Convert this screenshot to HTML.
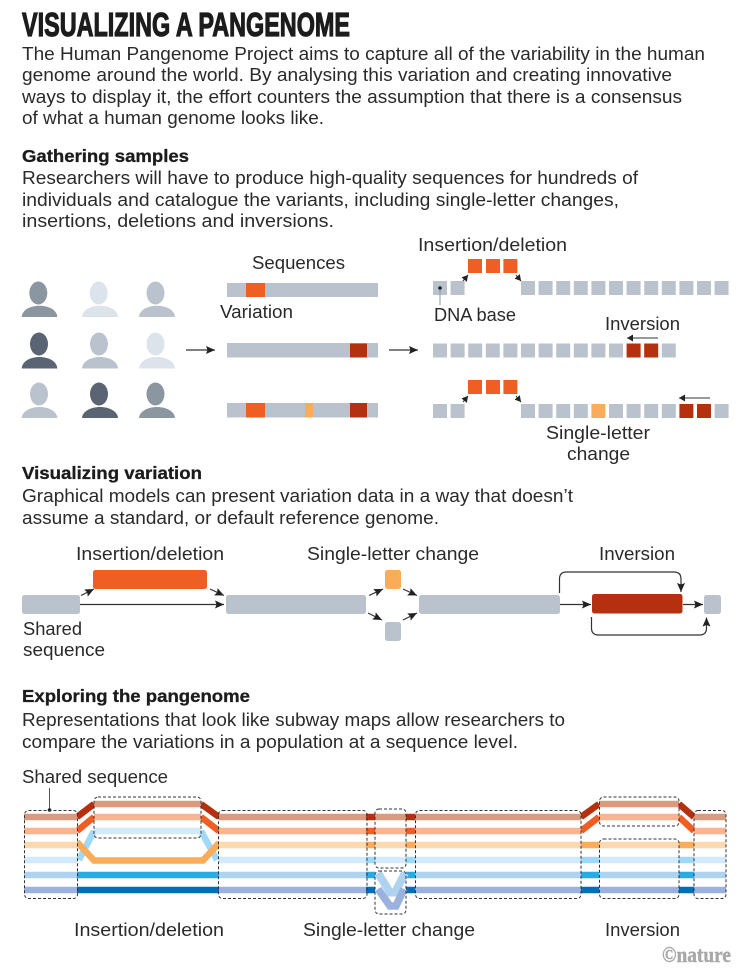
<!DOCTYPE html>
<html><head><meta charset="utf-8"><style>
html,body{margin:0;padding:0;background:#fff}
svg{display:block}
text{font-family:"Liberation Sans",sans-serif;font-size:18px;fill:#2a2a2a}
.h{font-weight:bold;font-size:17.5px;fill:#1c1c1c;stroke:#1c1c1c;stroke-width:.3}
.g{fill:#bac3cd}.o{fill:#ef5f24}.r{fill:#b5300f}.y{fill:#f9ac5a}
.a{stroke:#333;stroke-width:1.2;fill:none;marker-end:url(#ah)}
.b{fill:none;stroke:#333;stroke-width:1;stroke-dasharray:3 2}
.l{fill:none;stroke-width:6.5}
</style></head><body>
<svg width="751" height="971" viewBox="0 0 751 971" xmlns="http://www.w3.org/2000/svg">
<defs>
<marker id="ah" markerUnits="userSpaceOnUse" markerWidth="11" markerHeight="9" refX="9" refY="4.500" orient="auto"><path d="M0 0.500L9 4.500L0 8.500L1.500 4.500Z" fill="#222"/></marker>
<marker id="as" markerUnits="userSpaceOnUse" markerWidth="7" markerHeight="7" refX="6" refY="3.500" orient="auto"><path d="M0 0L6 3.500L0 7Z" fill="#222"/></marker>
</defs>
<rect width="751" height="971" fill="#fff"/>

<text x="22" y="36" textLength="328" lengthAdjust="spacingAndGlyphs" style="font-size:33.5px;font-weight:bold;fill:#1c1c1c;stroke:#1c1c1c;stroke-width:1.2">VISUALIZING A PANGENOME</text>
<text x="22" y="60" textLength="683" lengthAdjust="spacingAndGlyphs">The Human Pangenome Project aims to capture all of the variability in the human</text>
<text x="22" y="81" textLength="650" lengthAdjust="spacingAndGlyphs">genome around the world. By analysing this variation and creating innovative</text>
<text x="22" y="103" textLength="660" lengthAdjust="spacingAndGlyphs">ways to display it, the effort counters the assumption that there is a consensus</text>
<text x="22" y="124" textLength="302" lengthAdjust="spacingAndGlyphs">of what a human genome looks like.</text>

<text class="h" x="22" y="162" textLength="167" lengthAdjust="spacingAndGlyphs">Gathering samples</text>
<text x="22" y="184" textLength="616" lengthAdjust="spacingAndGlyphs">Researchers will have to produce high-quality sequences for hundreds of</text>
<text x="22" y="206" textLength="597" lengthAdjust="spacingAndGlyphs">individuals and catalogue the variants, including single-letter changes,</text>
<text x="22" y="227" textLength="312" lengthAdjust="spacingAndGlyphs">insertions, deletions and inversions.</text>

<!-- people -->
<g fill="#8b96a1"><ellipse cx="38.300" cy="293" rx="9" ry="11.500"/><path d="M21.700 317C22 310 30 305.700 39.500 305.700S57 310 57.300 317Z"/></g>
<g fill="#dde3eb"><ellipse cx="98.700" cy="293" rx="9" ry="11.500"/><path d="M82 317C82.300 310 90.500 305.700 100 305.700S117.700 310 118 317Z"/></g>
<g fill="#bac3cd"><ellipse cx="155.500" cy="293" rx="9" ry="11.500"/><path d="M139 317C139.300 310 147.500 305.700 157 305.700S174.700 310 175 317Z"/></g>
<g fill="#5a6472"><ellipse cx="39" cy="344" rx="9" ry="11.500"/><path d="M21.700 368.500C22 361.500 30 357 39.500 357S57 361.500 57.300 368.500Z"/></g>
<g fill="#bac3cd"><ellipse cx="99" cy="344" rx="9" ry="11.500"/><path d="M82 368.500C82.300 361.500 90.500 357 100 357S117.700 361.500 118 368.500Z"/></g>
<g fill="#dde3eb"><ellipse cx="155.500" cy="344" rx="9" ry="11.500"/><path d="M139 368.500C139.300 361.500 147.500 357 157 357S174.700 361.500 175 368.500Z"/></g>
<g fill="#bac3cd"><ellipse cx="39" cy="394" rx="9" ry="11.500"/><path d="M21.700 418C22 411.500 30 407 39.500 407S57 411.500 57.300 418Z"/></g>
<g fill="#5a6472"><ellipse cx="99" cy="394" rx="9" ry="11.500"/><path d="M82 418C82.300 411.500 90.500 407 100 407S117.700 411.500 118 418Z"/></g>
<g fill="#8b96a1"><ellipse cx="155.500" cy="394" rx="9" ry="11.500"/><path d="M139 418C139.300 411.500 147.500 407 157 407S174.700 411.500 175 418Z"/></g>

<path class="a" d="M186 350H215"/><path class="a" d="M389 350H418"/>

<!-- sequences -->
<text x="252" y="269" textLength="93" lengthAdjust="spacingAndGlyphs">Sequences</text>
<text x="220" y="318" textLength="73" lengthAdjust="spacingAndGlyphs">Variation</text>
<rect class="g" x="227" y="283" width="151" height="14"/><rect class="o" x="246" y="283" width="19" height="14"/>
<rect class="g" x="227" y="343" width="151" height="14.500"/><rect class="r" x="350" y="343.500" width="17" height="14"/>
<rect class="g" x="227" y="403" width="151" height="14.500"/><rect class="o" x="246" y="403" width="19" height="14.500"/><rect class="y" x="305" y="403" width="8" height="14.500"/><rect class="r" x="350" y="403" width="17" height="14.500"/>

<!-- squares -->
<text x="418" y="251" textLength="149" lengthAdjust="spacingAndGlyphs">Insertion/deletion</text>
<g class="o"><rect x="468" y="259" width="14" height="14"/><rect x="486" y="259" width="14" height="14"/><rect x="503.400" y="259" width="14" height="14"/></g>
<g class="g">
<rect x="433" y="281" width="14" height="14"/><rect x="450.600" y="281" width="14" height="14"/><rect x="521" y="281" width="14" height="14"/><rect x="538.600" y="281" width="14" height="14"/><rect x="556.200" y="281" width="14" height="14"/><rect x="573.800" y="281" width="14" height="14"/><rect x="591.400" y="281" width="14" height="14"/><rect x="609" y="281" width="14" height="14"/><rect x="626.600" y="281" width="14" height="14"/><rect x="644.200" y="281" width="14" height="14"/><rect x="661.800" y="281" width="14" height="14"/><rect x="679.400" y="281" width="14" height="14"/><rect x="697" y="281" width="14" height="14"/><rect x="714.600" y="281" width="14" height="14"/>
<rect x="433" y="343.500" width="14" height="14"/><rect x="450.600" y="343.500" width="14" height="14"/><rect x="468.200" y="343.500" width="14" height="14"/><rect x="485.800" y="343.500" width="14" height="14"/><rect x="503.400" y="343.500" width="14" height="14"/><rect x="521" y="343.500" width="14" height="14"/><rect x="538.600" y="343.500" width="14" height="14"/><rect x="556.200" y="343.500" width="14" height="14"/><rect x="573.800" y="343.500" width="14" height="14"/><rect x="591.400" y="343.500" width="14" height="14"/><rect x="609" y="343.500" width="14" height="14"/><rect x="661.800" y="343.500" width="14" height="14"/>
<rect x="433" y="404" width="14" height="14"/><rect x="450.600" y="404" width="14" height="14"/><rect x="521" y="404" width="14" height="14"/><rect x="538.600" y="404" width="14" height="14"/><rect x="556.200" y="404" width="14" height="14"/><rect x="573.800" y="404" width="14" height="14"/><rect x="609" y="404" width="14" height="14"/><rect x="626.600" y="404" width="14" height="14"/><rect x="644.200" y="404" width="14" height="14"/><rect x="661.800" y="404" width="14" height="14"/><rect x="714.600" y="404" width="14" height="14"/>
</g>
<g class="r"><rect x="626.600" y="343.500" width="14" height="14"/><rect x="644.200" y="343.500" width="14" height="14"/><rect x="679.400" y="404" width="14" height="14"/><rect x="697" y="404" width="14" height="14"/></g>
<rect class="y" x="591.400" y="404" width="14" height="14"/>
<g class="o"><rect x="468" y="380" width="14" height="14"/><rect x="486" y="380" width="14" height="14"/><rect x="503.400" y="380" width="14" height="14"/></g>
<g stroke="#333" stroke-width="1" fill="none" marker-end="url(#as)">
<path d="M463 281L468 275"/><path d="M516 275L521 281"/><path d="M463 402L468 396"/><path d="M516 396L521 402"/>
<path d="M658 338H627"/><path d="M710 398H679"/>
</g>
<path d="M440 288V305" stroke="#8b96a1" stroke-width="1"/><circle cx="440" cy="288" r="1.800" fill="#222"/>
<text x="434" y="321" textLength="82" lengthAdjust="spacingAndGlyphs">DNA base</text>
<text x="605" y="330" textLength="75" lengthAdjust="spacingAndGlyphs">Inversion</text>
<text x="546" y="439" textLength="104" lengthAdjust="spacingAndGlyphs">Single-letter</text>
<text x="567" y="460" textLength="63" lengthAdjust="spacingAndGlyphs">change</text>

<!-- section 2 -->
<text class="h" x="22" y="479" textLength="180" lengthAdjust="spacingAndGlyphs">Visualizing variation</text>
<text x="22" y="502" textLength="551" lengthAdjust="spacingAndGlyphs">Graphical models can present variation data in a way that doesn’t</text>
<text x="22" y="524" textLength="417" lengthAdjust="spacingAndGlyphs">assume a standard, or default reference genome.</text>

<text x="76" y="560" textLength="148" lengthAdjust="spacingAndGlyphs">Insertion/deletion</text>
<text x="307" y="560" textLength="172" lengthAdjust="spacingAndGlyphs">Single-letter change</text>
<text x="599" y="560" textLength="76" lengthAdjust="spacingAndGlyphs">Inversion</text>
<text x="23" y="635" textLength="59" lengthAdjust="spacingAndGlyphs">Shared</text>
<text x="23" y="656" textLength="82" lengthAdjust="spacingAndGlyphs">sequence</text>

<rect class="g" x="22" y="595" width="58" height="19" rx="2.500"/>
<rect class="o" x="93" y="570" width="114" height="19" rx="2.500"/>
<rect class="g" x="226" y="595" width="140" height="19" rx="2.500"/>
<rect class="y" x="385" y="570" width="16" height="19" rx="2.500"/>
<rect class="g" x="385" y="622" width="16" height="19" rx="2.500"/>
<rect class="g" x="419" y="595" width="141" height="19" rx="2.500"/>
<rect class="r" x="592" y="594" width="90.500" height="19.500" rx="2.500"/>
<rect class="g" x="704" y="595" width="17" height="19" rx="2.500"/>
<path class="a" d="M81 595.500L94 589"/><path class="a" d="M80 604.500H224"/><path class="a" d="M210 589L224 595.500"/>
<path class="a" d="M369 595.500L383 589"/><path class="a" d="M368 613L382 620"/><path class="a" d="M403 589L417 595.500"/><path class="a" d="M403 620L417 613"/>
<path class="a" d="M560 604.500H591"/><path class="a" d="M683 604.500H703"/>
<path class="a" d="M559.500 593V579Q559.500 572 566.500 572H674Q681 572 681 579V592"/>
<path class="a" d="M591.500 617V628Q591.500 635 598.500 635H699.500Q706.500 635 706.500 628V617.500"/>

<!-- section 3 -->
<text class="h" x="22" y="702" textLength="228" lengthAdjust="spacingAndGlyphs">Exploring the pangenome</text>
<text x="22" y="726" textLength="543" lengthAdjust="spacingAndGlyphs">Representations that look like subway maps allow researchers to</text>
<text x="22" y="748" textLength="496" lengthAdjust="spacingAndGlyphs">compare the variations in a population at a sequence level.</text>
<text x="22" y="783" textLength="146" lengthAdjust="spacingAndGlyphs">Shared sequence</text>
<path d="M49.500 788V810" stroke="#555" stroke-width="1"/><circle cx="49.500" cy="810" r="1.800" fill="#222"/>

<!-- subway: saturated -->
<g class="l" stroke="#9fd9f6">
<path d="M79 860L94 831"/><path d="M201 831L217 860"/>
<path d="M366 860H375M406 860H415M581 860H599M679 860H694"/>
</g>
<g class="l" stroke="#b5300f"><path d="M77 817L94 804M201 804L219 817M366 817H375M406 817H415M581 817L599 804M679 804L694 817"/></g>
<g class="l" stroke="#ef5f24"><path d="M77 831L94 817M201 817L219 831M366 831H375M406 831H415M581 831L599 817M679 817L694 831"/></g>
<g class="l" stroke="#f9ac5a"><path d="M77 842L94 860.500H203L219 843"/><path d="M366 845H375M406 845H415M581 845H599M679 845H694"/></g>
<g class="l" stroke="#2aa9e3"><path d="M77 875H219M366 875H375M406 875H415M581 875H599M679 875H694"/></g>
<g class="l" stroke="#006eb8"><path d="M77 890H219M366 890H375M406 890H415M581 890H599M679 890H694"/></g>
<!-- subway: pale -->
<g class="l" stroke="#d99a7e"><path d="M24 817H77M94 804H201M219 817H366M415 817H581M375 817H406M599 804H679M694 817H726"/></g>
<g class="l" stroke="#fbb48f"><path d="M24 831H77M94 817H201M219 831H366M415 831H581M375 831H406M599 817H679M694 831H726"/></g>
<g class="l" stroke="#fdd8b0"><path d="M24 845H77M219 845H366M415 845H581M375 845H406M599 845H679M694 845H726"/></g>
<g class="l" stroke="#d3eafa"><path d="M24 860H77M94 831H201M219 860H366M415 860H581M375 860H406M599 860H679M694 860H726"/></g>
<g class="l" stroke="#aed2ef"><path d="M24 875H77M219 875H366M415 875H581M599 875H679M694 875H726"/><path d="M378 873L390 892.500H395L405 873" stroke-width="8"/></g>
<g class="l" stroke="#9bb2de"><path d="M24 890H77M219 890H366M415 890H581M599 890H679M694 890H726"/><path d="M378 889L390 906H396L404 889" stroke-width="7.500"/></g>
<!-- dashed boxes -->
<rect class="b" x="24.500" y="810.500" width="53" height="88" rx="4"/>
<rect class="b" x="94" y="797" width="107" height="41" rx="4"/>
<rect class="b" x="218.500" y="810.500" width="148.500" height="88" rx="4"/>
<rect class="b" x="375" y="809" width="31" height="59" rx="4"/>
<rect class="b" x="375" y="871" width="31" height="43" rx="4"/>
<rect class="b" x="415.500" y="810.500" width="165.500" height="88" rx="4"/>
<rect class="b" x="599.500" y="797" width="79.500" height="29" rx="4"/>
<rect class="b" x="599.500" y="839" width="79.500" height="59.500" rx="4"/>
<rect class="b" x="694" y="810.500" width="32" height="88" rx="4"/>

<text x="74" y="936" textLength="150" lengthAdjust="spacingAndGlyphs">Insertion/deletion</text>
<text x="303" y="936" textLength="172" lengthAdjust="spacingAndGlyphs">Single-letter change</text>
<text x="605" y="936" textLength="75" lengthAdjust="spacingAndGlyphs">Inversion</text>
<text x="662" y="962" textLength="69" lengthAdjust="spacingAndGlyphs" style="font-family:'Liberation Serif',serif;font-weight:bold;font-size:22px;fill:#a8a8a8;stroke:#a8a8a8;stroke-width:.4">©nature</text>
</svg>
</body></html>
